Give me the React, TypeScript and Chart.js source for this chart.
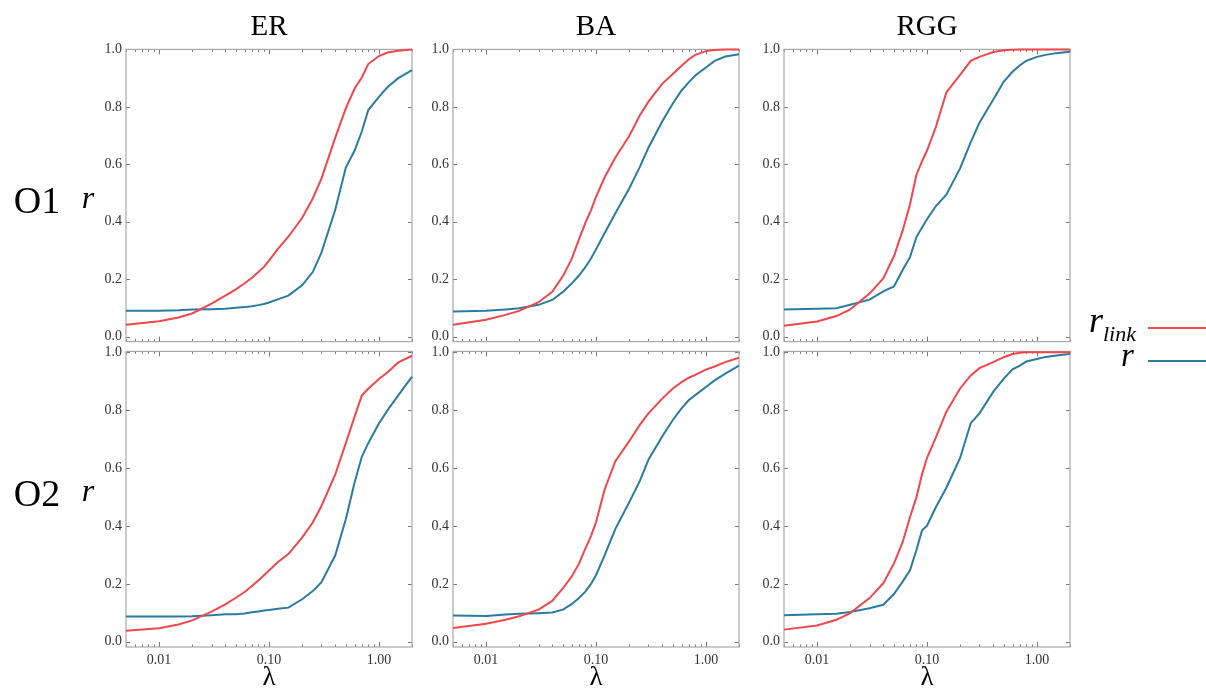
import React, { useEffect, useRef } from "react";
import { Chart, registerables } from "chart.js";

Chart.register(...registerables);

// ---------------- data ----------------
const LAMBDA = [0.005, 0.01, 0.015, 0.02, 0.03, 0.04, 0.05, 0.06, 0.07, 0.08, 0.09, 0.1, 0.12, 0.15, 0.2, 0.25, 0.3, 0.4, 0.5, 0.6, 0.7, 0.8, 1.0, 1.2, 1.5, 2.0];

const ER_O1_RLINK = [0.042, 0.054, 0.067, 0.081, 0.115, 0.143, 0.165, 0.186, 0.205, 0.225, 0.243, 0.265, 0.305, 0.348, 0.413, 0.481, 0.55, 0.692, 0.795, 0.863, 0.903, 0.949, 0.977, 0.989, 0.995, 1.0];
const ER_O1_R = [0.09, 0.09, 0.092, 0.095, 0.096, 0.097, 0.101, 0.103, 0.106, 0.11, 0.114, 0.119, 0.13, 0.143, 0.179, 0.225, 0.293, 0.441, 0.589, 0.647, 0.715, 0.789, 0.835, 0.869, 0.9, 0.928];

const BA_O1_RLINK = [0.042, 0.059, 0.076, 0.09, 0.12, 0.156, 0.211, 0.27, 0.339, 0.396, 0.44, 0.487, 0.555, 0.624, 0.698, 0.77, 0.818, 0.88, 0.914, 0.943, 0.966, 0.981, 0.994, 0.998, 1.0, 1.0];
const BA_O1_R = [0.088, 0.09, 0.095, 0.099, 0.111, 0.128, 0.156, 0.185, 0.213, 0.242, 0.272, 0.304, 0.361, 0.43, 0.515, 0.59, 0.658, 0.749, 0.812, 0.857, 0.886, 0.909, 0.937, 0.96, 0.975, 0.983];

const RGG_O1_RLINK = [0.038, 0.053, 0.072, 0.095, 0.15, 0.203, 0.28, 0.369, 0.46, 0.563, 0.61, 0.648, 0.728, 0.85, 0.911, 0.96, 0.974, 0.991, 0.997, 0.999, 1.0, 1.0, 1.0, 1.0, 1.0, 1.0];
const RGG_O1_R = [0.095, 0.097, 0.099, 0.111, 0.129, 0.158, 0.175, 0.232, 0.277, 0.346, 0.38, 0.409, 0.454, 0.494, 0.586, 0.677, 0.745, 0.825, 0.888, 0.922, 0.945, 0.96, 0.974, 0.981, 0.987, 0.992];

const ER_O2_RLINK = [0.038, 0.047, 0.06, 0.074, 0.104, 0.129, 0.152, 0.172, 0.193, 0.212, 0.23, 0.246, 0.275, 0.303, 0.36, 0.412, 0.469, 0.577, 0.686, 0.777, 0.851, 0.874, 0.908, 0.931, 0.965, 0.988];
const ER_O2_R = [0.087, 0.087, 0.087, 0.088, 0.092, 0.095, 0.095, 0.098, 0.102, 0.105, 0.108, 0.11, 0.114, 0.118, 0.147, 0.175, 0.206, 0.298, 0.423, 0.549, 0.64, 0.686, 0.754, 0.8, 0.851, 0.916];

const BA_O2_RLINK = [0.048, 0.062, 0.076, 0.088, 0.111, 0.141, 0.185, 0.225, 0.27, 0.322, 0.365, 0.413, 0.527, 0.624, 0.692, 0.749, 0.789, 0.84, 0.875, 0.897, 0.912, 0.922, 0.94, 0.951, 0.966, 0.981];
const BA_O2_R = [0.091, 0.089, 0.094, 0.097, 0.099, 0.101, 0.111, 0.13, 0.151, 0.173, 0.2, 0.23, 0.299, 0.39, 0.481, 0.555, 0.629, 0.709, 0.766, 0.806, 0.835, 0.852, 0.88, 0.903, 0.926, 0.954];

const RGG_O2_RLINK = [0.042, 0.056, 0.076, 0.099, 0.151, 0.202, 0.27, 0.344, 0.43, 0.498, 0.578, 0.635, 0.704, 0.795, 0.875, 0.92, 0.945, 0.966, 0.983, 0.994, 0.998, 1.0, 1.0, 1.0, 1.0, 1.0];
const RGG_O2_R = [0.092, 0.095, 0.097, 0.103, 0.116, 0.128, 0.165, 0.208, 0.247, 0.316, 0.384, 0.401, 0.464, 0.532, 0.635, 0.755, 0.789, 0.863, 0.909, 0.941, 0.954, 0.968, 0.977, 0.984, 0.989, 0.994];

const Y_TICKS = [0, 0.2, 0.4, 0.6, 0.8, 1.0];
const X_TICKS = [0.01, 0.1, 1];
const COLUMN_TITLES = ["ER", "BA", "RGG"];
const ROW_LABELS = ["O1", "O2"];

const PANEL_SERIES = [
  [[ER_O1_RLINK, ER_O1_R], [BA_O1_RLINK, BA_O1_R], [RGG_O1_RLINK, RGG_O1_R]],
  [[ER_O2_RLINK, ER_O2_R], [BA_O2_RLINK, BA_O2_R], [RGG_O2_RLINK, RGG_O2_R]],
];

// ---------------- style / layout ----------------
const RED = "#f0474d";
const BLUE = "#2a7ba2";
const FONT = "'Liberation Serif', 'Times New Roman', serif";
const COL_X = [126, 453, 784];
const PLOT_W = 286;
const ROW_Y = [47, 349];
const PLOT_H = [297, 298];
const Y_RANGE = [[-0.017, 1.0], [-0.018, 1.003]];
const X_MIN = 0.005;
const X_MAX = 2.0;
const PAD_L = 45;
const PAD_T = 10;
const PAD_R = 10;
const X_AXIS_H = 30;

const framePlugin = {
  id: "frame",
  beforeDatasetsDraw(chart: any) {
    const { ctx, chartArea } = chart;
    const { left, right, top, bottom } = chartArea;
    const xs = chart.scales.x;
    const ys = chart.scales.y;
    ctx.save();
    ctx.strokeStyle = "#555555";
    ctx.lineWidth = 0.8;
    ctx.beginPath();
    for (let e = -3; e <= 0; e++) {
      for (let k = 1; k <= 9; k++) {
        const v = k * Math.pow(10, e);
        if (v < X_MIN || v > X_MAX) continue;
        const px = Math.round(xs.getPixelForValue(v)) + 0.5;
        const len = k === 1 ? 5 : 2.5;
        ctx.moveTo(px, top);
        ctx.lineTo(px, top + len);
        ctx.moveTo(px, bottom);
        ctx.lineTo(px, bottom - len);
      }
    }
    for (const v of Y_TICKS) {
      const py = Math.round(ys.getPixelForValue(v)) + 0.5;
      ctx.moveTo(left, py);
      ctx.lineTo(left + 4, py);
      ctx.moveTo(right, py);
      ctx.lineTo(right - 4, py);
    }
    ctx.stroke();
    ctx.strokeStyle = "#a8a8a8";
    ctx.lineWidth = 1.2;
    ctx.strokeRect(left, top, right - left, bottom - top);
    ctx.restore();
  },
};

function Panel({ row, col }: { row: number; col: number }) {
  const ref = useRef<HTMLCanvasElement>(null);
  const w = PAD_L + PLOT_W + PAD_R;
  const h = PAD_T + PLOT_H[row] + (row === 1 ? X_AXIS_H : PAD_T);
  useEffect(() => {
    const [rlink, r] = PANEL_SERIES[row][col];
    const tickFont = { family: FONT, size: 14 };
    const chart = new Chart(ref.current as HTMLCanvasElement, {
      type: "line",
      data: {
        datasets: [
          {
            data: LAMBDA.map((x, i) => ({ x, y: rlink[i] })),
            borderColor: RED,
            borderWidth: 2,
            pointRadius: 0,
            tension: 0,
            clip: false,
          },
          {
            data: LAMBDA.map((x, i) => ({ x, y: r[i] })),
            borderColor: BLUE,
            borderWidth: 2,
            pointRadius: 0,
            tension: 0,
            clip: false,
          },
        ],
      } as any,
      options: {
        responsive: false,
        animation: false,
        events: [],
        layout: { padding: { left: 0, top: PAD_T, right: PAD_R, bottom: row === 1 ? 0 : PAD_T } },
        plugins: { legend: { display: false }, tooltip: { enabled: false } },
        scales: {
          x: {
            type: "logarithmic",
            min: X_MIN,
            max: X_MAX,
            grid: { display: false, drawTicks: false },
            border: { display: false },
            ticks: {
              display: row === 1,
              padding: 5,
              font: tickFont,
              color: "#333333",
              autoSkip: false,
              maxRotation: 0,
              callback: (v: any) => Number(v).toFixed(2),
            },
            afterBuildTicks: (s: any) => {
              s.ticks = X_TICKS.map((v) => ({ value: v }));
            },
            afterFit: (s: any) => {
              s.height = row === 1 ? X_AXIS_H : 0;
            },
          },
          y: {
            type: "linear",
            min: Y_RANGE[row][0],
            max: Y_RANGE[row][1],
            grid: { display: false, drawTicks: false },
            border: { display: false },
            ticks: {
              padding: 4,
              font: tickFont,
              color: "#333333",
              callback: (v: any) => Number(v).toFixed(1),
            },
            afterBuildTicks: (s: any) => {
              s.ticks = Y_TICKS.map((v) => ({ value: v }));
            },
            afterFit: (s: any) => {
              s.width = PAD_L;
            },
          },
        },
      } as any,
      plugins: [framePlugin],
    });
    let alive = true;
    if ((document as any).fonts && (document as any).fonts.load) {
      (document as any).fonts
        .load("14px 'Liberation Serif'")
        .then(() => {
          if (alive) chart.update();
        })
        .catch(() => {});
    }
    return () => {
      alive = false;
      chart.destroy();
    };
  }, [row, col]);
  return (
    <canvas
      ref={ref}
      width={w}
      height={h}
      style={{ position: "absolute", left: COL_X[col] - PAD_L, top: ROW_Y[row] - PAD_T, width: w, height: h }}
    />
  );
}

function Txt({ x, y, size, children, italic, anchor = "center", color = "#000" }: any) {
  // y = baseline
  const style: any = {
    position: "absolute",
    top: y - 0.8375 * size,
    fontFamily: FONT,
    fontSize: size,
    lineHeight: 1,
    whiteSpace: "nowrap",
    fontStyle: italic ? "italic" : "normal",
    color,
  };
  if (anchor === "center") {
    style.left = x - 200;
    style.width = 400;
    style.textAlign = "center";
  } else {
    style.left = x;
  }
  return <div style={style}>{children}</div>;
}

export default function App() {
  const colCenters = COL_X.map((x) => x + PLOT_W / 2);
  return (
    <div style={{ position: "absolute", left: 0, top: 0, width: 1206, height: 693, overflow: "hidden", background: "#fff" }}>
      {[0, 1].map((row) => [0, 1, 2].map((col) => <Panel key={`${row}-${col}`} row={row} col={col} />))}
      {COLUMN_TITLES.map((t, i) => (
        <Txt key={t} x={colCenters[i]} y={35} size={29}>
          {t}
        </Txt>
      ))}
      {ROW_LABELS.map((t, i) => (
        <Txt key={t} x={37} y={[213, 506][i]} size={38}>
          {t}
        </Txt>
      ))}
      {[0, 1].map((i) => (
        <Txt key={"r" + i} x={88} y={[208, 501][i]} size={32} italic>
          r
        </Txt>
      ))}
      {colCenters.map((c, i) => (
        <Txt key={"l" + i} x={c} y={686} size={27}>
          λ
        </Txt>
      ))}
      <Txt x={1089} y={332} size={36} anchor="left" italic>
        r
      </Txt>
      <Txt x={1103} y={341} size={22} anchor="left" italic>
        link
      </Txt>
      <div style={{ position: "absolute", left: 1148, top: 326.5, width: 58, height: 2.5, background: RED }} />
      <Txt x={1121} y={367} size={33} anchor="left" italic>
        r
      </Txt>
      <div style={{ position: "absolute", left: 1148, top: 359.5, width: 58, height: 2.5, background: BLUE }} />
    </div>
  );
}
